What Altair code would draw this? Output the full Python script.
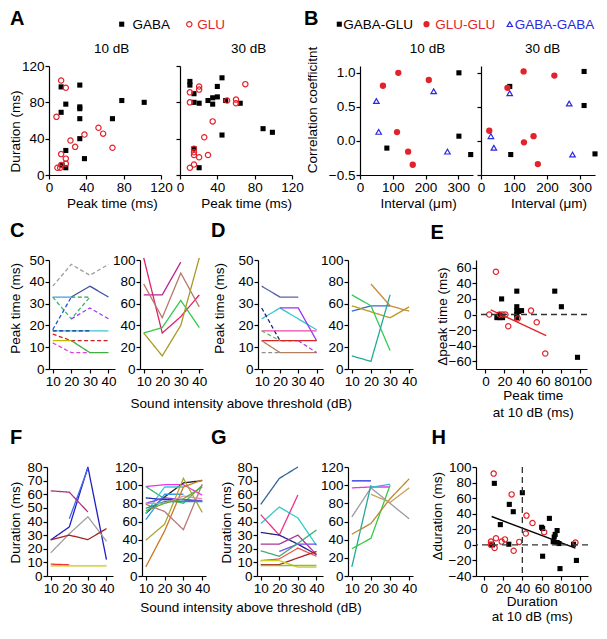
import altair as alt
import pandas as pd

FONT = "Liberation Sans"
RED = "#e3232b"
BLUE = "#2a2ae0"
LS = 13.5  # label font size

# ---------------- data: panel A (peak time vs duration) ----------------
A10_GABA_PEAK = [13, 13, 18, 33, 33, 33, 33, 33, 38, 18, 18, 14, 68, 78, 102]
A10_GABA_DUR = [97, 69, 78, 99, 75, 73, 62, 40, 18, 27, 8, 11, 62, 82, 80]
A10_GLU_PEAK = [13, 18, 8, 13, 18, 18, 13, 9, 12, 23, 28, 38, 53, 58, 68]
A10_GLU_DUR = [104, 96, 64, 23, 18, 12.5, 11, 8, 8, 38, 31, 44.5, 52, 45.5, 30]
A30_GABA_PEAK = [10.6, 10.6, 15, 15, 20.5, 30, 35, 40, 40, 45, 35, 15, 20.5, 45, 49, 64.5, 89, 99]
A30_GABA_DUR = [103, 99, 89.5, 80, 79, 82, 85, 97.5, 86, 107, 78, 29, 8, 44, 82, 79, 51, 47]
A30_GLU_PEAK = [10.6, 10.6, 20.5, 20.5, 35, 26, 15, 15, 15, 20.5, 30, 15, 10.6, 50.5, 60, 60, 70]
A30_GLU_DUR = [91, 80, 97.5, 94, 59, 41.5, 29, 25, 22, 19.5, 22, 11.5, 8, 82, 83, 79, 100]

# ---------------- data: panel B (interval vs correlation) ----------------
B10_GG_X = [302, 302, 82, 338]
B10_GG_Y = [1.0, 0.07, -0.105, -0.2]
B10_LL_X = [70, 117, 210, 113, 147, 161]
B10_LL_Y = [0.81, 1.0, 0.895, 0.13, -0.157, -0.35]
B10_AA_X = [50, 57, 225, 267]
B10_AA_Y = [0.586, 0.133, 0.73, -0.157]
B30_GG_X = [312, 312, 87, 90, 345]
B30_GG_Y = [1.02, 0.52, 0.80, -0.2, -0.19]
B30_LL_X = [80, 129, 222, 25, 130, 159, 172]
B30_LL_Y = [0.78, 1.02, 0.96, 0.15, -0.02, 0.07, -0.34]
B30_AA_X = [87, 30, 39, 267, 277]
B30_AA_Y = [0.70, 0.07, -0.10, 0.55, -0.2]

DB = [10, 20, 30, 40]

# ---------------- data: panel C (peak time vs intensity) ----------------
C_LEFT_VALUES = [
    [38, 48, 43, 48], [None, 33, 38, 33], [33, 33, None, None], [33, 23, 33, None],
    [None, 33, 33, None], [18, 33, None, None], [None, 23, 28, 23], [17.5, 17.5, 17.5, 17.5],
    [17.5, 17.5, 17.5, None], [16, 13, 13, 13], [13, 13, None, None], [None, 13, 7.5, 7.5],
    [12, 7.5, 7.5, None],
]
C_LEFT_COLORS = ["#a0a0a0", "#3d4f9f", "#3aa0e0", "#3cb371", "#2e9b57", "#2255cc", "#9b3bef",
                 "#35c8d0", "#1a2a8e", "#cc2222", "#c8b400", "#3fae3f", "#dd44dd"]
C_LEFT_DASHED = [1, 0, 0, 1, 1, 1, 1, 0, 1, 1, 0, 0, 1]
C_RIGHT_VALUES = [[102, 33, 48, 68], [68, 68, 98, None], [78, 47, 88, 57], [33, 38, 63, 38], [33, 12, 40, 102]]
C_RIGHT_COLORS = ["#e0226a", "#b8248f", "#b57a68", "#2dcc4a", "#a89a25"]

# ---------------- data: panel D ----------------
D_LEFT_VALUES = [
    [38, 33, 33, None], [23, 28, 23, 18], [None, 28, 28, 13], [28, 13, 13, None],
    [17.5, 17.5, 17.5, 17.5], [13, 13, 13, 13], [17.5, 13, None, None], [13, 7.5, 7.5, 7.5],
    [7.5, 7.5, None, None], [None, None, 13, 7.5],
]
D_LEFT_COLORS = ["#5560a8", "#35c8d0", "#9b35ef", "#1a237e", "#ee44aa", "#dd2222", "#66bb66",
                 "#b08060", "#909090", "#aa44cc"]
D_LEFT_DASHED = [0, 0, 0, 1, 0, 0, 1, 0, 1, 1]
D_RIGHT_VALUES = [[None, 78, 58, 53], [53, 58, 58, None], [58, 52.5, 47, 57], [68, 58, 17, None], [12, 7, 68, None]]
D_RIGHT_COLORS = ["#c98a3a", "#3a66cc", "#b89a22", "#33cc55", "#22aa99"]

# ---------------- data: panel E ----------------
E_GABA_X = [17, 33, 33, 33, 35, 38, 33, 33, 12, 15, 18, 15, 73, 80, 97]
E_GABA_Y = [20, 30, 10, 5, 4, 5, 0, -4, -4, -4, -4, 0, 30, 10, -55]
E_GLU_X = [11, 4, 15, 21, 24, 34, 48, 54, 63, 18]
E_GLU_Y = [55, 0, 0, 0, -15, -5, 5, -10, -50, 0]
E_FIT_X = [5.5, 64]
E_FIT_Y = [6, -27]
E_ZERO_Y = [0]

# ---------------- data: panel F (duration vs intensity) ----------------
F_LEFT_VALUES = [
    [26.5, 36, 80, 12], [None, 42, 79, None], [62.5, 61.5, 47, None], [17, 31, 43.5, 25.5],
    [26.5, 30, 26.7, 34.8], [8.7, 8.2, None, None], [7.5, 7.5, 7.5, 7.5],
]
F_LEFT_COLORS = ["#2020c0", "#4466ee", "#b0307a", "#a0a0a0", "#aa2222", "#ee3333", "#c8c800"]
F_RIGHT_VALUES = [
    [98.5, 100.5, 100.5, 89], [98.5, 85, 80, 100], [69, 87, 102.5, 105], [62, 90, 90, None],
    [69, 98, 98, None], [39.4, 57, 107.5, 70], [10, 49.5, 98, 105.7], [79, 71, 51, 101],
    [86, 84, 84, 82], [80, 86, 84, 83], [74.5, 82, 82, 82], [80, 80, 88, 85], [72, 80, 85, 98],
]
F_RIGHT_COLORS = ["#ee33ee", "#33bb66", "#222222", "#3399ee", "#33ccdd", "#a8a833", "#cc7722",
                  "#bb7777", "#2233aa", "#7744ee", "#229999", "#ee88aa", "#66aa33"]

# ---------------- data: panel G ----------------
G_LEFT_VALUES = [
    [52.5, 71.6, 80, None], [38.5, 50.6, 42.6, 22.4], [45, 30, 59.5, None], [32, 30, 23.4, 15.7],
    [23.4, 23.4, 30, 15.7], [None, 18, 23.4, 23.4], [18.5, 14.5, 24, 33.7], [11.3, 12.5, 20.5, 14.5],
    [8.4, 8.4, 13.3, 18], [11.3, 11.3, 6.5, 6.5], [7.7, 7.7, 7.7, 7.7],
]
G_LEFT_COLORS = ["#336699", "#33cccc", "#ee3388", "#222288", "#aa3399", "#7744ee", "#44aa77",
                 "#ee5555", "#aa2222", "#cccc22", "#99bb33"]
G_RIGHT_VALUES = [
    [104.8, 104.8, None, None], [97, 98, 98, None], [None, 97.6, 101, None], [65, 97, 80, 63],
    [10, 100, None, None], [30, 41.5, 100, None], [46, 57.8, 85, 107], [None, 90, 81, 97],
]
G_RIGHT_COLORS = ["#2222dd", "#ee33ee", "#33bbcc", "#9a9a9a", "#22aa99", "#33cc44", "#bb8833", "#c8a060"]

# ---------------- data: panel H ----------------
H_GABA_X = [11, 26.5, 30.6, 17.2, 40, 26, 8, 9, 60, 61, 68, 76, 74, 73, 72, 76, 78, 61, 79, 96, 93]
H_GABA_Y = [79, 52, 42.6, 26, 67, 0.8, 0.8, 0, 22.6, 21, 34, 18.4, 13.4, 10, 4, 3, 1.7, -14.6, -30.5, -20, 0.8]
H_GLU_X = [10.3, 28.9, 36.8, 43.6, 44.3, 50.5, 62.6, 95, 12.7, 11.3, 18.6, 22, 31, 7.5, 7.5]
H_GLU_Y = [91.5, 64.8, 3.8, 14.6, 37.6, 28, 16.3, 3, 8.4, -4, 4.2, 7, -7.5, 4.2, 0]
H_FIT_X = [8.2, 95]
H_FIT_Y = [36.4, -4.2]
H_ZERO_Y = [0]
H_SPLIT_X = [40]

ONE = pd.DataFrame({"k": [0]})


def xy(xs, ys):
    return pd.DataFrame({"x": xs, "y": ys})


def axis(ticks, labels=True, fmt=None):
    ax = dict(values=ticks, title=None, labels=labels, labelOverlap=False, labelFlush=False, labelBound=False)
    if fmt:
        ax["format"] = fmt
    return alt.Axis(**ax)


def X(domain, ticks, labels=True):
    return alt.X("x:Q", scale=alt.Scale(domain=domain, nice=False, zero=False), axis=axis(ticks, labels))


def Y(domain, ticks, labels=True, fmt=None):
    return alt.Y("y:Q", scale=alt.Scale(domain=domain, nice=False, zero=False), axis=axis(ticks, labels, fmt))


def squares(xs, ys, ex, ey):
    return alt.Chart(xy(xs, ys)).mark_point(shape="square", filled=True, color="black", size=26,
                                            opacity=1).encode(x=ex, y=ey)


def rings(xs, ys, ex, ey):
    return alt.Chart(xy(xs, ys)).mark_point(shape="circle", filled=False, color=RED, size=28,
                                            strokeWidth=1.2, opacity=1).encode(x=ex, y=ey)


def dots(xs, ys, ex, ey):
    return alt.Chart(xy(xs, ys)).mark_point(shape="circle", filled=True, color=RED, size=40,
                                            opacity=1).encode(x=ex, y=ey)


def tris(xs, ys, ex, ey):
    return alt.Chart(xy(xs, ys)).mark_point(shape="triangle-up", filled=False, color=BLUE, size=30,
                                            strokeWidth=1.2, opacity=1).encode(x=ex, y=ey)


def fit(xs, ys, ex, ey, color):
    return alt.Chart(xy(xs, ys)).mark_line(color=color, strokeWidth=1.4).encode(x=ex, y=ey)


def hline(ys, ey):
    return alt.Chart(pd.DataFrame({"y": ys})).mark_rule(
        color="#333333", strokeWidth=1.3, strokeDash=[6, 4]).encode(y=ey)


def vline(xs, ex):
    return alt.Chart(pd.DataFrame({"x": xs})).mark_rule(
        color="#333333", strokeWidth=1.3, strokeDash=[6, 4]).encode(x=ex)


def lines(values, colors, dashed, ex, ey):
    rows = []
    for i, vals in enumerate(values):
        for xv, v in zip(DB, vals):
            if v is not None:
                rows.append({"sid": "s%02d" % i, "x": xv, "y": v, "col": colors[i],
                             "dash": "d" if dashed[i] else "s"})
    df = pd.DataFrame(rows)
    return alt.Chart(df).mark_line(strokeWidth=1.3).encode(
        x=ex, y=ey,
        color=alt.Color("col:N", scale=None),
        strokeDash=alt.StrokeDash("dash:N", scale=alt.Scale(domain=["s", "d"], range=[[1, 0], [4, 2.5]]),
                                  legend=None),
        detail="sid:N",
    )


def txt(text, x, y, size=LS, bold=False, color="black", align="center", baseline="alphabetic", angle=None):
    kw = dict(text=text, font=FONT, fontSize=size, fontWeight="bold" if bold else "normal",
              color=color, align=align, baseline=baseline)
    if angle is not None:
        kw["angle"] = angle
    return alt.Chart(ONE).mark_text(**kw).encode(x=alt.value(x), y=alt.value(y))


def letter(ch, x, y):
    return txt(ch, x, y, size=20, bold=True, align="left")


def ytitle(t, x, y):
    return txt(t, x, y, angle=270, baseline="middle")


def marker(shape, x, y, filled, color, size):
    return alt.Chart(ONE).mark_point(shape=shape, filled=filled, color=color, size=size, opacity=1,
                                     strokeWidth=1.2).encode(x=alt.value(x), y=alt.value(y))


def spacer(w, h=1):
    return alt.Chart(ONE).mark_point(size=0, opacity=0).encode(
        x=alt.value(0), y=alt.value(0)).properties(width=max(int(w), 1), height=h)


H_ROW = 109


def panel(layers, w, extent=None):
    layers = list(layers)
    if extent is not None:
        # invisible vertical rule fixing this row's vertical extent
        layers.append(alt.Chart(ONE).mark_rule(strokeWidth=0, opacity=0).encode(
            x=alt.value(0), y=alt.value(extent[0]), y2=alt.value(extent[1])))
    return alt.layer(*layers).properties(width=w, height=H_ROW)


def row(items, origin=40):
    cells, cur = [], 0
    for k, (ch, px, w) in enumerate(items):
        target = px - origin
        gap = target - cur
        sw = gap - 1 if k == 0 else gap - 2
        cells += [spacer(sw), ch]
        cur = target + w
    return alt.hconcat(*cells, spacing=1, bounds="flush")


X_DB_L = [8, 43.5]
X_DB_R = [8, 42]
TK_DB = [10, 20, 30, 40]

# ---------------- Row 1 ----------------
ax, ay = X([0, 120], [0, 40, 80, 120]), Y([0, 120], [0, 40, 80, 120])
A1 = panel([
    squares(A10_GABA_PEAK, A10_GABA_DUR, ax, ay), rings(A10_GLU_PEAK, A10_GLU_DUR, ax, ay),
    letter("A", -39, -41),
    marker("square", 72.7, -41.8, True, "black", 26), txt("GABA", 83.5, -36.9, align="left"),
    marker("circle", 140.3, -41.8, False, RED, 28), txt("GLU", 148.2, -36.9, align="left", color=RED),
    txt("10 dB", 62.6, -13.2), ytitle("Duration (ms)", -33, 65.5),
    txt("Peak time (ms)", 63.3, 137.5, baseline="middle"),
], 112, extent=(-58, 150))

ax2, ay2 = X([0, 120], [0, 40, 80, 120]), Y([0, 120], [0, 40, 80, 120], labels=False)
A2 = panel([
    squares(A30_GABA_PEAK, A30_GABA_DUR, ax2, ay2), rings(A30_GLU_PEAK, A30_GLU_DUR, ax2, ay2),
    txt("30 dB", 68.6, -13.2), txt("Peak time (ms)", 66.7, 137.5, baseline="middle"),
], 112)

bx, by = X([0, 345], [0, 100, 200, 300]), Y([-0.5, 1.1], [-0.5, 0, 0.5, 1.0], fmt=".1f")
B1 = panel([
    squares(B10_GG_X, B10_GG_Y, bx, by), dots(B10_LL_X, B10_LL_Y, bx, by), tris(B10_AA_X, B10_AA_Y, bx, by),
    letter("B", -56, -41),
    marker("square", -20.7, -41.8, True, "black", 26), txt("GABA-GLU", -16.8, -36.9, align="left"),
    marker("circle", 66.5, -41.8, True, RED, 38), txt("GLU-GLU", 75.3, -36.9, align="left", color=RED),
    marker("triangle-up", 149.8, -41.8, False, BLUE, 28),
    txt("GABA-GABA", 154.7, -36.9, align="left", color=BLUE),
    txt("10 dB", 67.5, -13.2), ytitle("Correlation coefficitnt", -47, 44),
    txt("Interval (\u03bcm)", 58.6, 137.5, baseline="middle"),
], 113)

bx2, by2 = X([0, 345], [0, 100, 200, 300]), Y([-0.5, 1.1], [-0.5, 0, 0.5, 1.0], labels=False)
B2 = panel([
    squares(B30_GG_X, B30_GG_Y, bx2, by2), dots(B30_LL_X, B30_LL_Y, bx2, by2), tris(B30_AA_X, B30_AA_Y, bx2, by2),
    txt("30 dB", 61.6, -13.2), txt("Interval (\u03bcm)", 68, 137.5, baseline="middle"),
], 114)

# ---------------- Row 2 ----------------
cxl, cyl = X(X_DB_L, TK_DB), Y([0, 50], [0, 10, 20, 30, 40, 50])
C1 = panel([
    lines(C_LEFT_VALUES, C_LEFT_COLORS, C_LEFT_DASHED, cxl, cyl),
    letter("C", -39, -22.7), ytitle("Peak time (ms)", -33, 48.4),
    txt("Sound intensity above threshold (dB)", 192.3, 147.8),
], 66, extent=(-43, 162))
cxr, cyr = X(X_DB_R, TK_DB), Y([0, 100], [0, 20, 40, 60, 80, 100])
C2 = panel([lines(C_RIGHT_VALUES, C_RIGHT_COLORS, [0] * len(C_RIGHT_VALUES), cxr, cyr)], 63)
dxl, dyl = X(X_DB_L, TK_DB), Y([0, 50], [0, 10, 20, 30, 40, 50])
D1 = panel([
    lines(D_LEFT_VALUES, D_LEFT_COLORS, D_LEFT_DASHED, dxl, dyl),
    letter("D", -47, -22.7), ytitle("Peak time (ms)", -38.3, 48.4),
], 65)
dxr, dyr = X(X_DB_R, TK_DB), Y([0, 100], [0, 20, 40, 60, 80, 100])
D2 = panel([lines(D_RIGHT_VALUES, D_RIGHT_COLORS, [0] * len(D_RIGHT_VALUES), dxr, dyr)], 65)
ex, ey = X([-10, 107], [0, 20, 40, 60, 80, 100]), Y([-70, 70], [-60, -40, -20, 0, 20, 40, 60])
E = panel([
    fit(E_FIT_X, E_FIT_Y, ex, ey, RED),
    squares(E_GABA_X, E_GABA_Y, ex, ey), rings(E_GLU_X, E_GLU_Y, ex, ey),
    hline(E_ZERO_Y, ey),
    letter("E", -45.6, -20.7), ytitle("\u0394peak time (ms)", -33, 56.7),
    txt("Peak time", 57.3, 139.9), txt("at 10 dB (ms)", 57.3, 157),
], 111)

# ---------------- Row 3 ----------------
fxl, fyl = X(X_DB_L, TK_DB), Y([0, 80], [0, 10, 20, 30, 40, 50, 60, 70, 80])
F1 = panel([
    lines(F_LEFT_VALUES, F_LEFT_COLORS, [0] * len(F_LEFT_VALUES), fxl, fyl),
    letter("F", -37, -23.5), ytitle("Duration (ms)", -31, 55.6),
    txt("Sound intensity above threshold (dB)", 204, 145.2),
], 66, extent=(-44, 157))
fxr, fyr = X(X_DB_R, TK_DB), Y([0, 120], [0, 20, 40, 60, 80, 100, 120])
F2 = panel([lines(F_RIGHT_VALUES, F_RIGHT_COLORS, [0] * len(F_RIGHT_VALUES), fxr, fyr)], 64)
gxl, gyl = X(X_DB_L, TK_DB), Y([0, 80], [0, 10, 20, 30, 40, 50, 60, 70, 80])
G1 = panel([
    lines(G_LEFT_VALUES, G_LEFT_COLORS, [0] * len(G_LEFT_VALUES), gxl, gyl),
    letter("G", -46, -23.5), ytitle("Duration (ms)", -30.4, 55.6),
], 66)
gxr, gyr = X(X_DB_R, TK_DB), Y([0, 120], [0, 20, 40, 60, 80, 100, 120])
G2 = panel([lines(G_RIGHT_VALUES, G_RIGHT_COLORS, [0] * len(G_RIGHT_VALUES), gxr, gyr)], 65)
hx, hy = X([-8, 108], [0, 20, 40, 60, 80, 100]), Y([-40, 100], [-40, -20, 0, 20, 40, 60, 80, 100])
H = panel([
    fit(H_FIT_X, H_FIT_Y, hx, hy, "black"),
    squares(H_GABA_X, H_GABA_Y, hx, hy), rings(H_GLU_X, H_GLU_Y, hx, hy),
    hline(H_ZERO_Y, hy), vline(H_SPLIT_X, hx),
    letter("H", -44.6, -23.5), ytitle("\u0394duration (ms)", -37.8, 49.2),
    txt("Duration", 56.3, 139), txt("at 10 dB (ms)", 56.3, 154),
], 112)

row1 = row([(A1, 48, 112), (A2, 179, 112), (B1, 359, 113), (B2, 480, 114)])
row2 = row([(C1, 48, 66), (C2, 139, 63), (D1, 257, 65), (D2, 347, 65), (E, 475, 111)])
row3 = row([(F1, 46, 66), (F2, 141, 64), (G1, 256, 66), (G2, 347, 65), (H, 475, 112)])

chart = alt.vconcat(row1, row2, row3, spacing=1).properties(
    padding=0, background="white"
).configure_view(stroke=None).configure_axis(
    domainColor="black", domainWidth=1.2, tickColor="black", tickWidth=1.2, tickSize=4,
    labelColor="black", labelFont=FONT, labelFontSize=LS, labelPadding=1, grid=False,
    labelOverlap=False, labelFlush=False, labelBound=False,
).configure_text(font=FONT)

chart.save("out.html", embed_options={"renderer": "svg", "actions": False})
